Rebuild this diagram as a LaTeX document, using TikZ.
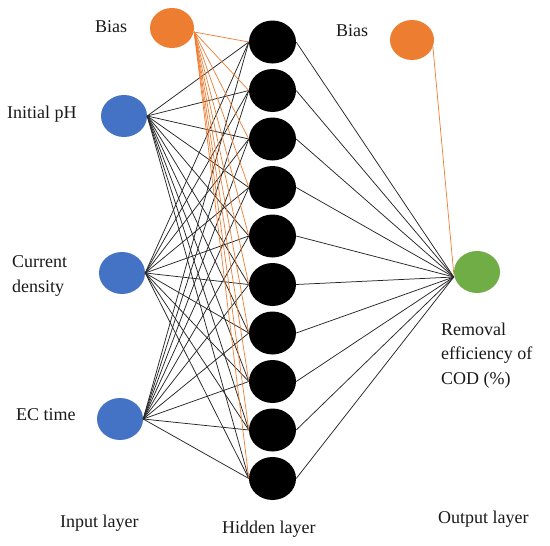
\documentclass[tikz,border=0pt]{standalone}
\usepackage{fontspec}
\setmainfont{Liberation Serif}
\usetikzlibrary{shapes.geometric}
\definecolor{biasor}{HTML}{ED7D31}
\definecolor{inblue}{HTML}{4472C4}
\definecolor{outgreen}{HTML}{70AD47}
\begin{document}
\begin{tikzpicture}[x=1pt,y=-1pt,
  neuron/.style={ellipse, inner sep=0pt, minimum width=46pt, minimum height=42pt},
  biasnode/.style={neuron, fill=biasor, minimum width=44pt, minimum height=40pt},
  innode/.style={neuron, fill=inblue},
  hidnode/.style={neuron, fill=black, minimum width=47pt, minimum height=43pt},
  outnode/.style={neuron, fill=outgreen},
  wire/.style={line width=0.75pt, black!85},
  biaswire/.style={line width=0.7pt, biasor},
  lbl/.style={font=\fontsize{18}{24.5}\selectfont, inner sep=0pt, anchor=base west, align=left, text=black!90}]
\useasboundingbox (0,0) rectangle (550,546);
% nodes
\node[biasnode] (b1) at (172,28) {};
\node[biasnode] (b2) at (412,40) {};
\node[innode] (in1) at (124,116) {};
\node[innode] (in2) at (122,273) {};
\node[innode] (in3) at (120,419) {};
\foreach \i in {1,...,10} {
  \node[hidnode] (h\i) at (272.5,{42+48.5*(\i-1)}) {};
}
\node[outnode] (out) at (477,272) {};
% connectors
\foreach \i in {1,...,10} {
  \draw[wire] (in1.east) -- (h\i.west);
  \draw[wire] (in2.east) -- (h\i.west);
  \draw[wire] (in3.east) -- (h\i.west);
  \draw[biaswire] ([yshift=-4pt]b1.east) -- (h\i.west);
  \draw[wire] (h\i.east) -- ([yshift=-5pt]out.west);
}
\draw[biaswire] (b2.-18) -- ([yshift=-2pt]out.west);
% labels
\node[lbl] (tb1) at (95,32) {Bias};
\node[lbl] (tb2) at (336,37) {Bias};
\node[lbl] (tin1) at (7,118) {Initial pH};
\node[lbl] (tin2) at (12,292) {Current\\density};
\node[lbl] (tin3) at (16,420) {EC time};
\node[lbl] (tout) at (441,384) {Removal\\efficiency of\\COD (\%)};
\node[lbl] (lin) at (60,527) {Input layer};
\node[lbl] (lhid) at (222,533) {Hidden layer};
\node[lbl] (lout) at (438,523) {Output layer};
\end{tikzpicture}
\end{document}
